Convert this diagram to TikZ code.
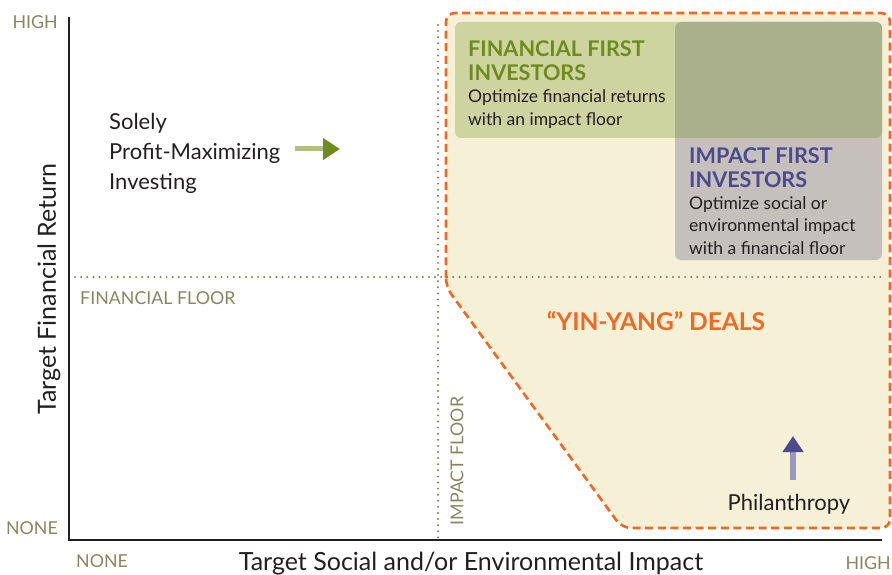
\documentclass[tikz,border=0pt]{standalone}
\usepackage{fontspec}
\setmainfont{Lato}
\usepackage{tikz}
\usetikzlibrary{arrows.meta}
\usetikzlibrary{backgrounds}
\definecolor{colorAxis}{RGB}{35,31,32}
\definecolor{colorLabel}{RGB}{135,135,95}
\definecolor{colorDots}{RGB}{125,125,85}
\definecolor{colorDeals}{RGB}{240,105,35}
\definecolor{colorDealsFill}{RGB}{246,240,215}
\definecolor{colorFF}{RGB}{110,140,30}
\definecolor{colorFFbox}{RGB}{206,212,160}
\definecolor{colorFFlight}{RGB}{178,190,130}
\definecolor{colorIF}{RGB}{75,74,140}
\definecolor{colorIFbox}{RGB}{197,192,188}
\definecolor{colorIFlight}{RGB}{155,152,196}
\definecolor{colorBoth}{RGB}{170,176,140}
\tikzset{
   axis/.style={line width=2.6pt,color=colorAxis},
   floor/.style={color=colorDots,line width=2.2pt,line cap=round,dash pattern=on 0pt off 6.1pt},
   deals/.style={color=colorDeals,line width=2.6pt,dash pattern=on 8pt off 4.6pt,fill=colorDealsFill,rounded corners=9pt},
   lbl/.style={color=colorLabel,inner sep=0pt,font=\fontsize{17.8}{20}\selectfont},
   axtitle/.style={color=colorAxis,inner sep=0pt,font=\fontsize{25}{28}\selectfont},
   head/.style={inner sep=0pt,align=left,font=\fontsize{21.6}{24}\selectfont\bfseries},
   body/.style={inner sep=0pt,align=left,color=colorAxis,font=\fontsize{17.5}{22.8}\selectfont},
   ffarrow/.style={-{Triangle[length=17pt,width=21pt,color=colorFF]},line width=5pt,colorFFlight},
   ifarrow/.style={-{Triangle[length=16pt,width=20pt,color=colorIF]},line width=6pt,colorIFlight},
}

\begin{document}
\begin{tikzpicture}[x=1pt,y=-1pt]
  \useasboundingbox (0,0) rectangle (892,575);

  % region of the yin-yang deals
  \draw[deals] (446,287) -- (446,13) -- (890,13) -- (890,528) -- (622,528) -- cycle;

  % floors
  \coordinate (ffl) at (69,277);
  \coordinate (ffr) at (885,277);
  \coordinate (ift) at (438,25);
  \coordinate (ifb) at (438,538);
  \draw[floor] (ffl) -- (ffr);
  \draw[floor] (ift) -- (ifb);

  % investor boxes
  \fill[colorIFbox, rounded corners=6pt] (675,22) rectangle (882,260);
  \fill[colorFFbox, rounded corners=6pt] (455,22) rectangle (882,138);
  \begin{scope}
    \clip[rounded corners=6pt] (675,22) rectangle (882,260);
    \fill[colorBoth, rounded corners=6pt] (455,22) rectangle (882,138);
  \end{scope}

  \node[head, colorFF, anchor=north west] (ffhead) at (468,41) {FINANCIAL FIRST\\INVESTORS};
  \node[body, anchor=north west] (ffbody) at (468,89.5) {Optimize financial returns\\with an impact floor};

  \node[head, colorIF, anchor=north west] (ifhead) at (689,148) {IMPACT FIRST\\INVESTORS};
  \node[body, anchor=north west] (ifbody) at (689,196) {Optimize social or\\environmental impact\\with a financial floor};

  \node[head, colorDeals, anchor=center, font=\fontsize{24.5}{28}\selectfont\bfseries] (yinyang) at (656,321) {“YIN-YANG” DEALS};

  % solely profit-maximizing investing
  \node[body, anchor=north west, font=\fontsize{22}{30}\selectfont] (solely) at (109,113.5) {Solely\\Profit-Maximizing\\Investing};
  \coordinate (ffa) at (295,149);
  \coordinate (ffb) at (340,149);
  \draw[ffarrow] (ffa) -- (ffb);

  % philanthropy
  \node[body, anchor=center, font=\fontsize{22}{24}\selectfont] (phil) at (789,504) {Philanthropy};
  \coordinate (ifa) at (793,480);
  \coordinate (ifb) at (793,436);
  \draw[ifarrow] (ifa) -- (ifb);

  % axes
  \coordinate (origin) at (69,540);
  \coordinate (ytop) at (69,17);
  \coordinate (xend) at (882,540);
  \draw[axis] (ytop) -- (origin) -- (xend);

  \node[lbl, anchor=east] (yhigh) at (58,22) {HIGH};
  \node[lbl, anchor=east] (ynone) at (58,528) {NONE};
  \node[lbl, anchor=west] (xnone) at (76,561) {NONE};
  \node[lbl, anchor=east] (xhigh) at (891,563) {HIGH};
  \node[lbl, anchor=west] (ffloor) at (80,298) {FINANCIAL FLOOR};
  \node[lbl, anchor=center, rotate=90] (ifloor) at (457,461) {IMPACT FLOOR};

  \node[axtitle, rotate=90] (ytitle) at (49,289) {Target Financial Return};
  \node[axtitle] (xtitle) at (471,564) {Target Social and/or Environmental Impact};
\end{tikzpicture}
\end{document}
